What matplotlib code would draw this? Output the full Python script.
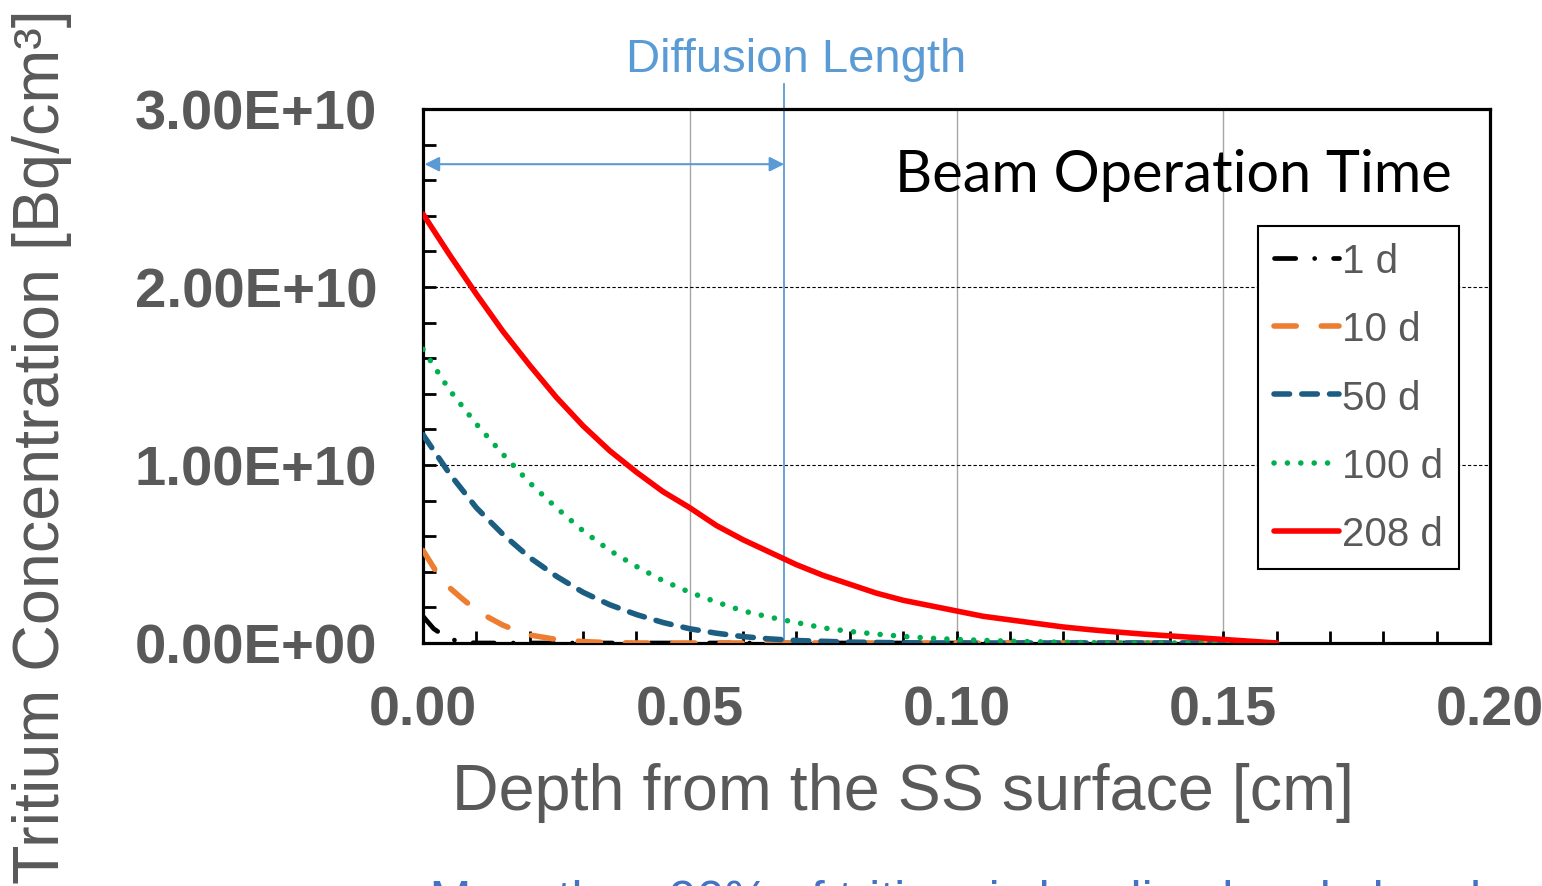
import matplotlib
matplotlib.use("Agg")
import matplotlib.pyplot as plt

plt.rcParams['font.family'] = ['Liberation Sans', 'DejaVu Sans']

# ---------------- data ----------------
depth_1d = [0.0, 0.002, 0.004, 0.006, 0.008, 0.010, 0.02, 0.04, 0.08, 0.12, 0.16]
conc_1d = [0.15e10, 0.08e10, 0.04e10, 0.015e10, 0.005e10, 0.0, 0.0, 0.0, 0.0, 0.0, 0.0]

depth_10d = [0.0, 0.0025, 0.005, 0.0075, 0.010, 0.0125, 0.015, 0.0175, 0.020, 0.025,
             0.030, 0.035, 0.040, 0.08, 0.12, 0.16]
conc_10d = [0.52e10, 0.40e10, 0.31e10, 0.245e10, 0.185e10, 0.14e10, 0.10e10, 0.07e10,
            0.045e10, 0.02e10, 0.008e10, 0.002e10, 0.0, 0.0, 0.0, 0.0]

depth_50d = [0.0, 0.005, 0.010, 0.015, 0.020, 0.025, 0.030, 0.035, 0.040, 0.045, 0.050,
             0.055, 0.060, 0.065, 0.070, 0.080, 0.090, 0.100, 0.130, 0.160]
conc_50d = [1.17e10, 0.95e10, 0.76e10, 0.61e10, 0.48e10, 0.375e10, 0.285e10, 0.215e10,
            0.16e10, 0.115e10, 0.08e10, 0.055e10, 0.036e10, 0.023e10, 0.014e10,
            0.005e10, 0.001e10, 0.0, 0.0, 0.0]

depth_100d = [0.0, 0.005, 0.010, 0.015, 0.020, 0.025, 0.030, 0.035, 0.040, 0.045, 0.050,
              0.055, 0.060, 0.065, 0.070, 0.075, 0.080, 0.085, 0.090, 0.095, 0.100,
              0.110, 0.120, 0.130, 0.160]
conc_100d = [1.65e10, 1.42e10, 1.23e10, 1.06e10, 0.90e10, 0.76e10, 0.63e10, 0.52e10,
             0.43e10, 0.35e10, 0.285e10, 0.23e10, 0.18e10, 0.145e10, 0.115e10, 0.085e10,
             0.065e10, 0.05e10, 0.037e10, 0.027e10, 0.02e10, 0.01e10, 0.004e10, 0.0, 0.0]

depth_208d = [0.0, 0.005, 0.010, 0.015, 0.020, 0.025, 0.030, 0.035, 0.040, 0.045, 0.050,
              0.055, 0.060, 0.065, 0.070, 0.075, 0.080, 0.085, 0.090, 0.095, 0.100,
              0.105, 0.110, 0.115, 0.120, 0.125, 0.130, 0.135, 0.140, 0.145, 0.150,
              0.155, 0.160]
conc_208d = [2.41e10, 2.18e10, 1.96e10, 1.75e10, 1.56e10, 1.38e10, 1.22e10, 1.08e10,
             0.96e10, 0.85e10, 0.76e10, 0.66e10, 0.58e10, 0.51e10, 0.44e10, 0.38e10,
             0.33e10, 0.28e10, 0.24e10, 0.21e10, 0.18e10, 0.15e10, 0.13e10, 0.11e10,
             0.09e10, 0.075e10, 0.062e10, 0.05e10, 0.04e10, 0.03e10, 0.02e10, 0.01e10, 0.0]

labels = ['1 d', '10 d', '50 d', '100 d', '208 d']
diffusion_length = 0.0677
y_ticks = [0, 1e10, 2e10, 3e10]
y_ticklabels = ['0.00E+00', '1.00E+10', '2.00E+10', '3.00E+10']
x_ticks = [0.0, 0.05, 0.10, 0.15, 0.20]
x_ticklabels = ['0.00', '0.05', '0.10', '0.15', '0.20']

# ---------------- figure ----------------
W, H = 1542, 887
fig = plt.figure(figsize=(W / 100, H / 100), dpi=100)
ax = fig.add_axes([423 / W, 1 - 644 / H, (1490 - 423) / W, (644 - 110) / H])

GRAY = '#595959'
BLUE_TXT = '#5B9BD5'

series = [
    (depth_1d, conc_1d, dict(color='black', lw=3.4, linestyle=(0, (4.5, 4.0, 0.01, 4.0)))),
    (depth_10d, conc_10d, dict(color='#ED7D31', lw=4.0, linestyle=(0, (4.0, 4.5)))),
    (depth_50d, conc_50d, dict(color='#1B5E82', lw=4.0, linestyle=(0, (2.8, 2.2)))),
    (depth_100d, conc_100d, dict(color='#00B050', lw=4.0, linestyle=(0, (0.01, 2.4)))),
    (depth_208d, conc_208d, dict(color='#FF0000', lw=4.0, linestyle='-')),
]
handles = []
for (xs, ys, st), lab in zip(series, labels):
    ln, = ax.plot(xs, ys, label=lab, dash_capstyle='round', solid_capstyle='round',
                  zorder=3, **st)
    handles.append(ln)

ax.set_xlim(0, 0.2)
ax.set_ylim(0, 3e10)

# gridlines
for xv in [0.05, 0.10, 0.15]:
    ax.axvline(xv, color='#A6A6A6', lw=1.0, zorder=1)
for yv in [1e10, 2e10]:
    ax.axhline(yv, color='black', lw=0.8, linestyle=(0, (3, 2)), zorder=1)

ax.set_xticks(x_ticks)
ax.set_xticklabels(x_ticklabels)
ax.set_yticks(y_ticks)
ax.set_yticklabels(y_ticklabels)
ax.set_xticks([i * 0.01 for i in range(21)], minor=True)
ax.set_yticks([i * 0.2e10 for i in range(16)], minor=True)
ax.tick_params(axis='both', which='both', direction='in', width=2.0, length=9, color='black')
ax.tick_params(axis='x', which='major', pad=30, labelsize=40, labelcolor=GRAY)
ax.tick_params(axis='y', which='major', pad=33, labelsize=40.5, labelcolor=GRAY)
for lab in ax.get_xticklabels() + ax.get_yticklabels():
    lab.set_fontweight('bold')
for sp in ax.spines.values():
    sp.set_linewidth(2.3)

# axis labels
fig.text(903 / W, 1 - 793 / H, 'Depth from the SS surface [cm]', fontsize=46.5,
         color=GRAY, ha='center', va='center')
fig.text(42 / W, 1 - 447 / H, 'Tritium Concentration [Bq/cm³]', fontsize=46.5,
         color=GRAY, ha='center', va='center', rotation=90)

# diffusion length marker
ax.plot([diffusion_length, diffusion_length], [0, 3.14e10], color=BLUE_TXT, lw=1.3,
        clip_on=False, zorder=2)
ax.annotate('', xy=(0.0003, 2.69e10), xytext=(diffusion_length, 2.69e10),
            arrowprops=dict(arrowstyle='<|-|>', color=BLUE_TXT, lw=1.5,
                            mutation_scale=22, shrinkA=0, shrinkB=0))
fig.text(796 / W, 1 - 60 / H, 'Diffusion Length', fontsize=34, color=BLUE_TXT,
         ha='center', va='center')

# title
fig.text(1452 / W, 1 - 176 / H, 'Beam Operation Time', fontsize=41.5, color='black',
         ha='right', va='center', family=['Lato', 'DejaVu Sans'])

# legend
leg = ax.legend(handles=handles, loc='upper right',
                bbox_to_anchor=(1459 / W, 1 - 227 / H), bbox_transform=fig.transFigure,
                fontsize=29, frameon=True, fancybox=False, borderaxespad=0,
                handlelength=1.6, handletextpad=0.08, labelspacing=0.75,
                borderpad=0.4, labelcolor=GRAY)
leg.get_frame().set_edgecolor('black')
leg.get_frame().set_linewidth(1.5)
leg.get_frame().set_alpha(1.0)

# cut-off bullet text at bottom
fig.text(360 / W, 1 - 903 / H, '➢  More than 90% of tritium is localized and absorbed in SS',
         fontsize=36, color='#4472C4', ha='left', va='center',
         family=['Liberation Sans', 'DejaVu Sans'])

fig.savefig('out.png', dpi=100)
